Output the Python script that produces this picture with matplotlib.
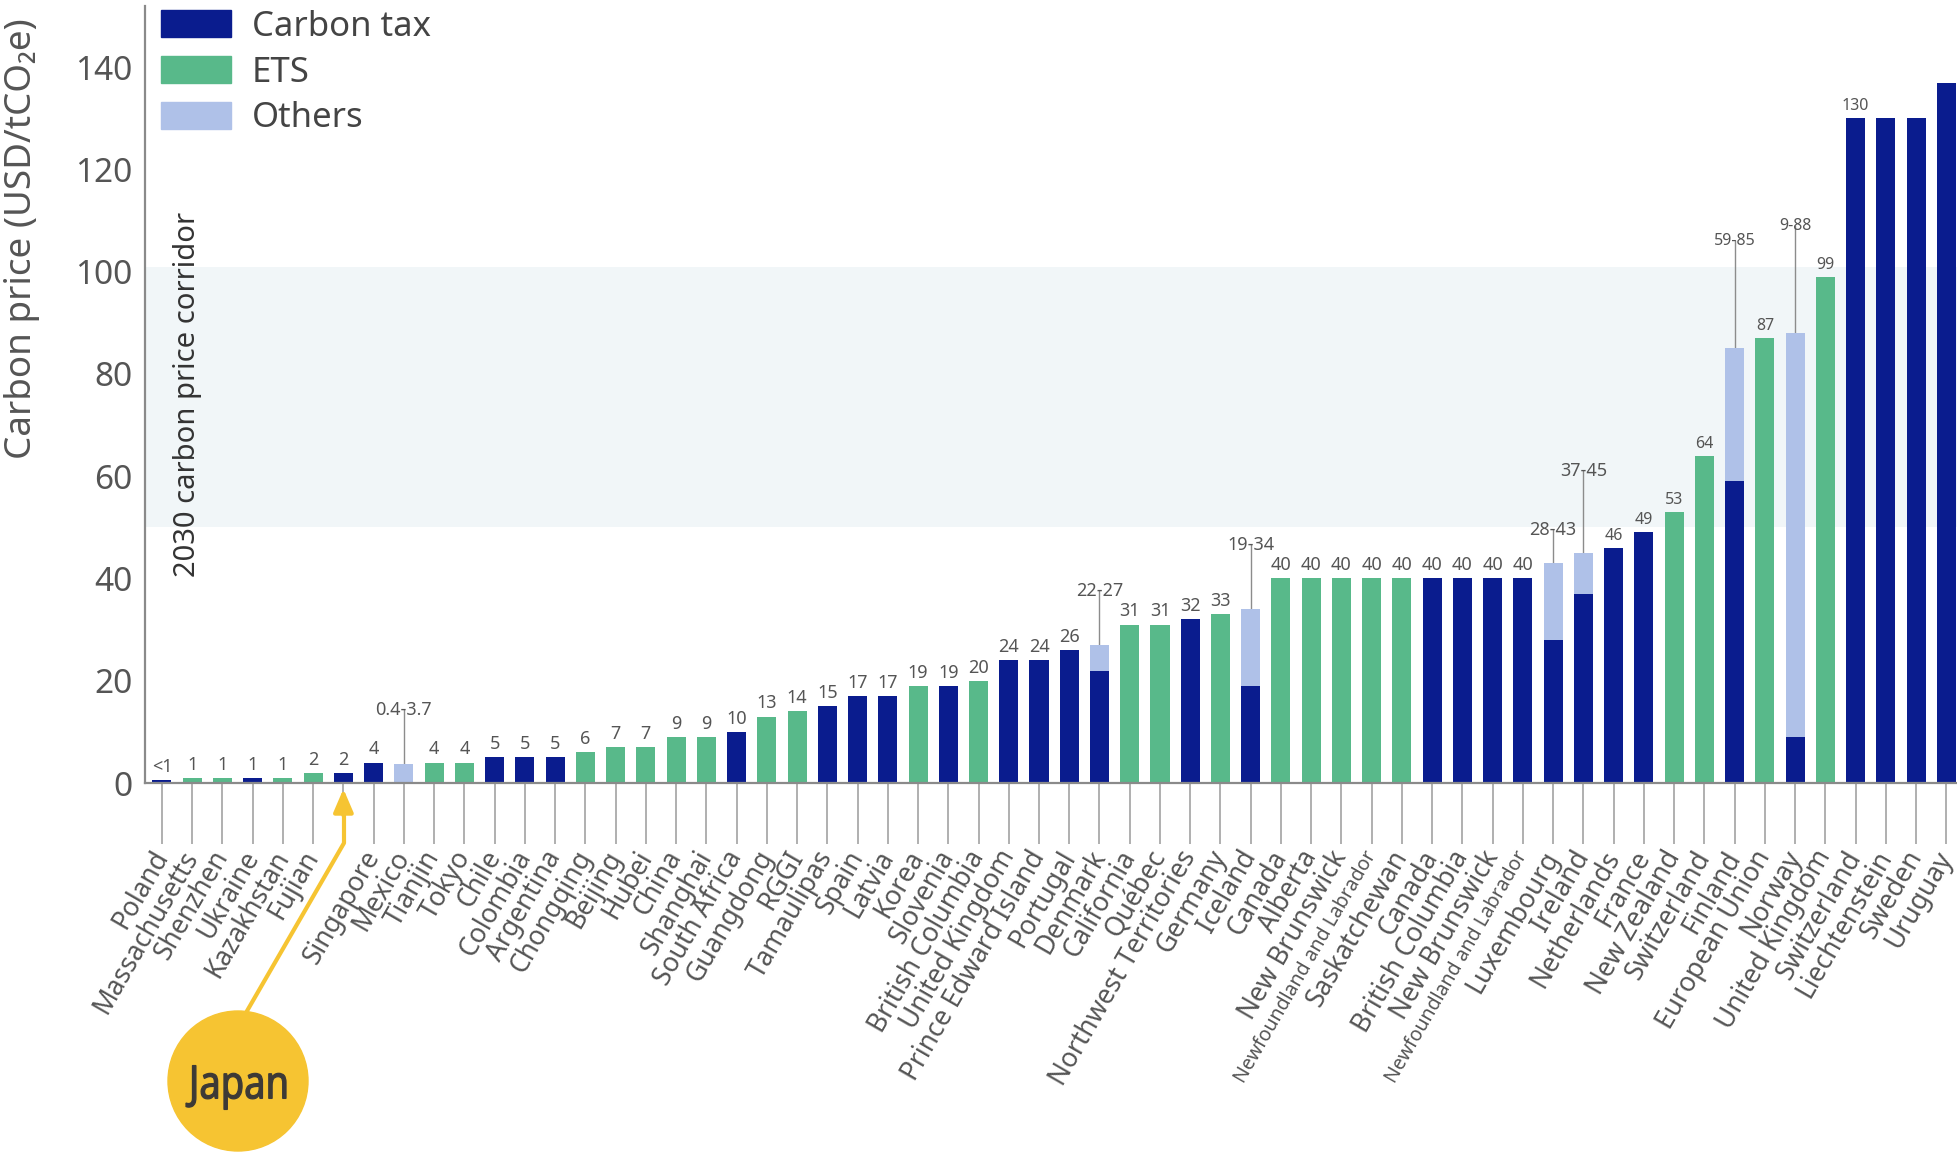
import matplotlib.pyplot as plt
import numpy as np
from matplotlib.patches import Ellipse, Patch, PathPatch
from matplotlib.lines import Line2D
from matplotlib.textpath import TextPath
from matplotlib.font_manager import FontProperties
from matplotlib.transforms import Affine2D

plt.rcParams['font.family'] = ['Noto Sans', 'DejaVu Sans']

# jurisdictions, lowest to highest price (Japan has no tick label, it gets the bubble)
names = ['Poland', 'Massachusetts', 'Shenzhen', 'Ukraine', 'Kazakhstan', 'Fujian', '',
         'Singapore', 'Mexico', 'Tianjin', 'Tokyo', 'Chile', 'Colombia', 'Argentina',
         'Chongqing', 'Beijing', 'Hubei', 'China', 'Shanghai', 'South Africa', 'Guangdong',
         'RGGI', 'Tamaulipas', 'Spain', 'Latvia', 'Korea', 'Slovenia', 'British Columbia',
         'United Kingdom', 'Prince Edward Island', 'Portugal', 'Denmark', 'California',
         'Québec', 'Northwest Territories', 'Germany', 'Iceland', 'Canada', 'Alberta',
         'New Brunswick', 'Newfoundland and Labrador', 'Saskatchewan', 'Canada',
         'British Columbia', 'New Brunswick', 'Newfoundland and Labrador', 'Luxembourg',
         'Ireland', 'Netherlands', 'France', 'New Zealand', 'Switzerland', 'Finland',
         'European Union', 'Norway', 'United Kingdom', 'Switzerland', 'Liechtenstein',
         'Sweden', 'Uruguay']

tax = [0.5, 0, 0, 1, 0, 0, 2, 4, 0, 0, 0, 5, 5, 5, 0, 0, 0, 0, 0, 10, 0, 0, 15, 17, 17, 0, 19, 0,
       24, 24, 26, 22, 0, 0, 32, 0, 19, 0, 0, 0, 0, 0, 40, 40, 40, 40, 28, 37, 46, 49, 0, 0, 59,
       0, 9, 0, 130, 130, 130, 137]
ets = [0, 1, 1, 0, 1, 2, 0, 0, 0, 4, 4, 0, 0, 0, 6, 7, 7, 9, 9, 0, 13, 14, 0, 0, 0, 19, 0, 20,
       0, 0, 0, 0, 31, 31, 0, 33, 0, 40, 40, 40, 40, 40, 0, 0, 0, 0, 0, 0, 0, 0, 53, 64, 0,
       87, 0, 99, 0, 0, 0, 0]
others = [0, 0, 0, 0, 0, 0, 0, 0, 3.7, 0, 0, 0, 0, 0, 0, 0, 0, 0, 0, 0, 0, 0, 0, 0, 0, 0, 0, 0,
          0, 0, 0, 5, 0, 0, 0, 0, 15, 0, 0, 0, 0, 0, 0, 0, 0, 0, 15, 8, 0, 0, 0, 0, 26,
          0, 79, 0, 0, 0, 0, 0]

value_labels = ['<1', '1', '1', '1', '1', '2', '2', '4', '0.4-3.7', '4', '4', '5', '5', '5',
                '6', '7', '7', '9', '9', '10', '13', '14', '15', '17', '17', '19', '19', '20',
                '24', '24', '26', '22-27', '31', '31', '32', '33', '19-34', '40', '40', '40',
                '40', '40', '40', '40', '40', '40', '28-43', '37-45', '46', '49', '53', '64',
                '59-85', '87', '9-88', '99', '130', '', '', '']

c_tax = '#0A1C8E'
c_ets = '#58B98A'
c_oth = '#AFC1E8'
txt = '#555555'

fig = plt.figure(figsize=(19.57, 11.53), dpi=100)
ax = fig.add_axes([0.0741, 0.3209, 0.926, 0.674])

x = np.arange(len(names))
tax = np.array(tax, dtype=float)
ets = np.array(ets, dtype=float)
others = np.array(others, dtype=float)
top = tax + ets + others

ax.axhspan(50, 101, color='#F1F6F8', zorder=0, lw=0)
w = 0.63
ax.bar(x, tax, w, color=c_tax, zorder=2)
ax.bar(x, ets, w, bottom=tax, color=c_ets, zorder=2)
ax.bar(x, others, w, bottom=tax + ets, color=c_oth, zorder=2)

# range labels sit on a thin leader line
lead = {8: 10.5, 31: 10.5, 36: 12.5, 46: 6.5, 47: 16, 52: 21, 54: 21}
for i, lab in enumerate(value_labels):
    if not lab:
        continue
    fs = 13 if i < 48 else 11.5
    if i in lead:
        yl = top[i] + lead[i]
        ax.plot([i, i], [top[i], yl], color='#8c8c8c', lw=1, zorder=1)
        ax.text(i, yl, lab, ha='center', va='center', fontsize=fs, color=txt, zorder=3)
    else:
        ax.annotate(lab, (i, top[i]), xytext=(0, 3), textcoords='offset points',
                    ha='center', va='bottom', fontsize=fs, color=txt)

ax.set_xlim(-0.56, 59.36)
ax.set_ylim(0, 152)
ax.set_xticks(x)
ax.set_xticklabels(names, rotation=60, ha='right', va='center', rotation_mode='anchor',
                   fontsize=19, color=txt)
for t in ax.get_xticklabels():
    if t.get_text() == 'Newfoundland and Labrador':
        t.set_fontsize(14)
ax.tick_params(axis='x', length=44, width=1.1, color='#9a9a9a', pad=6)

ax.set_yticks(range(0, 141, 20))
ax.tick_params(axis='y', length=0, pad=9, labelsize=24, labelcolor=txt)
ax.set_ylabel('Carbon price (USD/tCO₂e)', fontsize=26.5, color=txt)
ax.yaxis.set_label_coords(-0.058, 0.70)

for s in ['top', 'right']:
    ax.spines[s].set_visible(False)
for s in ['left', 'bottom']:
    ax.spines[s].set_color('#8a8a8a')
    ax.spines[s].set_linewidth(1.6)

ax.text(0.83, 76, '2030 carbon price corridor', rotation=90, ha='center', va='center',
        fontsize=21, color='#333333')

handles = [Patch(color=c_tax, label='Carbon tax'),
           Patch(color=c_ets, label='ETS'),
           Patch(color=c_oth, label='Others')]
leg = ax.legend(handles=handles, loc='upper left', bbox_to_anchor=(0.009, 0.995),
                frameon=False, fontsize=25, handlelength=2.0, handleheight=0.8,
                labelspacing=0.34, handletextpad=0.6, borderpad=0, borderaxespad=0)
for t in leg.get_texts():
    t.set_color('#444444')

# Japan callout (pixel positions of the bubble, converted to figure fraction)
W, H = 1957, 1153
yel = '#F6C432'
fig.add_artist(Ellipse((238 / W, 1 - 1081 / H), 140 / W, 140 / H,
                       transform=fig.transFigure, color=yel, zorder=5))
# condensed "Japan": squeeze a text path horizontally
tp = TextPath((0, 0), 'Japan', size=46, prop=FontProperties(family='Noto Sans'))
bb = tp.get_extents()
sx = 100 / bb.width
cx, cy = 236, H - 1087.5
tr = (Affine2D().translate(-(bb.x0 + bb.width / 2), -(bb.y0 + bb.height / 2))
      .scale(sx, 1).translate(cx, cy).scale(1 / W, 1 / H) + fig.transFigure)
fig.add_artist(PathPatch(tp, transform=tr, facecolor='#3d3a36', edgecolor='#3d3a36',
                         lw=0.9, zorder=6))

fig.add_artist(Line2D([247 / W, 344 / W, 344 / W], [1 - 1011 / H, 1 - 843 / H, 1 - 812 / H],
                      transform=fig.transFigure, color=yel, lw=3, zorder=5))
ax.annotate('', xy=(6, -0.004), xycoords=('data', 'axes fraction'),
            xytext=(6, -0.045), textcoords=('data', 'axes fraction'),
            arrowprops=dict(arrowstyle='-|>,head_length=1.4,head_width=0.6', color=yel, lw=3),
            annotation_clip=False)

fig.savefig('out.png', dpi=100)
